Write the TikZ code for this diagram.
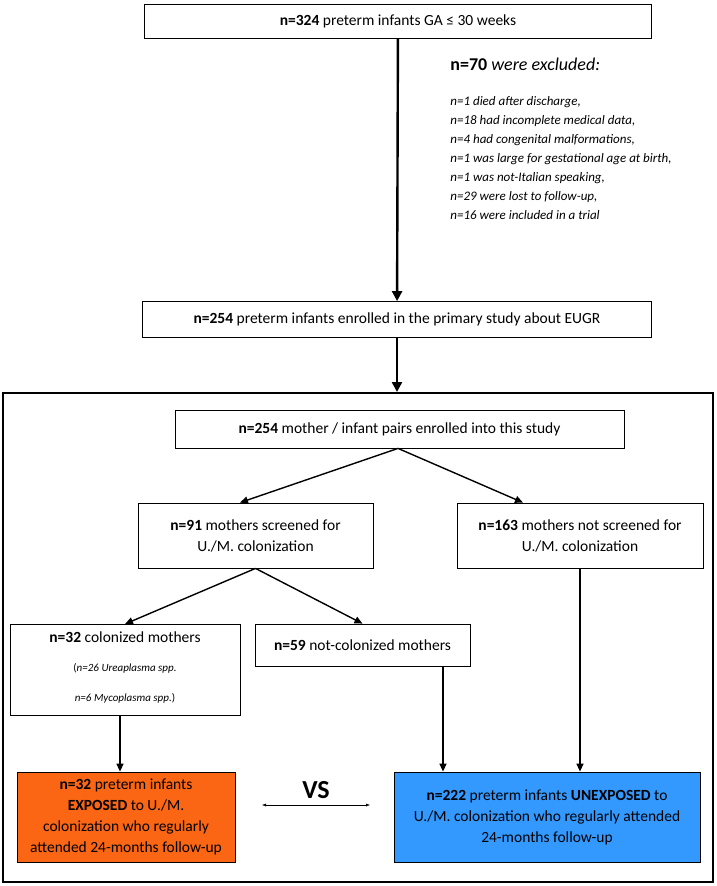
\documentclass[tikz,border=0pt]{standalone}
\usepackage{fontspec}
\setmainfont{Carlito}
\usetikzlibrary{positioning, arrows.meta, calc}

\begin{document}
\begin{tikzpicture}[x=1pt, y=-1pt, thick, font=\fontsize{15.5}{21}\selectfont]
                \tikzstyle{box} = [draw, rectangle, line width=0.8pt, inner sep=0pt, align=center]
                \tikzstyle{big} = [line width=2.4pt, -{Triangle[length=10pt, width=10pt]}]
                \tikzstyle{arr} = [line width=1.4pt, -{Triangle[length=8pt, width=7pt]}]

                \useasboundingbox (0,0) rectangle (717,886);

                % Upper part
                \node[box, minimum width=507pt, minimum height=34pt] (all) at (398,21) {\textbf{n=324} preterm infants GA ≤ 30 weeks};
                \node[box, minimum width=509pt, minimum height=36pt] (eugr) at (397,319.5) {\textbf{n=254} preterm infants enrolled in the primary study about EUGR};
                \node[anchor=west, inner sep=0pt, font=\fontsize{18}{20}\selectfont\itshape] (exhead) at (450,64) {\textbf{\upshape n=70} were excluded:};
                \node[anchor=north west, align=left, inner sep=0pt, font=\fontsize{13}{19}\selectfont\itshape] (excl) at (450,96)
                    {n=1 died after discharge,\\
                     n=18 had incomplete medical data,\\
                     n=4 had congenital malformations,\\
                     n=1 was large for gestational age at birth,\\
                     n=1 was not-Italian speaking,\\
                     n=29 were lost to follow-up,\\
                     n=16 were included in a trial};

                % Frame of this study
                \node[draw, line width=2pt, minimum width=710pt, minimum height=489pt, inner sep=0pt] (frame) at (358,637.5) {};

                \node[box, minimum width=449pt, minimum height=38pt] (pairs) at (399.5,429) {\textbf{n=254} mother / infant pairs enrolled into this study};
                \node[box, minimum width=235pt, minimum height=65pt] (scr) at (255.5,535.5) {\textbf{n=91} mothers screened for\\U./M. colonization};
                \node[box, minimum width=246pt, minimum height=65pt] (nscr) at (580,535.5) {\textbf{n=163} mothers not screened for\\U./M. colonization};
                \node[box, minimum width=230pt, minimum height=91pt, anchor=north] (col) at (125,624) {};
                \node[inner sep=0pt] (coltxt) at (125,637) {\textbf{n=32} colonized mothers};
                \node[align=center, inner sep=0pt, font=\fontsize{11}{30}\selectfont\itshape] (spp) at (125,683) {\upshape(\itshape n=26 Ureaplasma spp.\\n=6 Mycoplasma spp.\upshape)};
                \node[box, minimum width=215pt, minimum height=42pt] (ncol) at (362.5,645) {\textbf{n=59} not-colonized mothers};

                % Outcome groups
                \node[box, fill={rgb,255:red,250;green,102;blue,20}, minimum width=218pt, minimum height=90pt] (exp) at (126,817) {\textbf{n=32} preterm infants\\\textbf{EXPOSED} to U./M.\\colonization who regularly\\attended 24-months follow-up};
                \node[box, fill={rgb,255:red,51;green,153;blue,255}, minimum width=306pt, minimum height=90pt] (unexp) at (547,817) {\textbf{n=222} preterm infants \textbf{UNEXPOSED} to\\U./M. colonization who regularly attended\\24-months follow-up};
                \node[font=\fontsize{26}{26}\selectfont\bfseries] (vs) at (316,790) {VS};
                \coordinate (vsl) at (262,805);
                \coordinate (vsr) at (370,805);

                \draw[big] (all) -- (eugr);
                \draw[big] (eugr) -- (frame.north -| eugr);
                \draw[arr] (pairs.south -| 398,0) -- (scr.north -| 240,0);
                \draw[arr] (pairs.south -| 398,0) -- (nscr.north -| 523,0);
                \draw[arr] (scr.south) -- (col.north);
                \draw[arr] (scr.south) -- (ncol.north);
                \draw[arr] (col.south -| 120,0) -- (exp.north -| 120,0);
                \draw[arr] (ncol.south -| 443,0) -- (unexp.north -| 443,0);
                \draw[arr] (nscr.south) -- (unexp.north -| nscr.south);
                \draw[thin, {Latex[length=4pt]}-{Latex[length=4pt]}] (vsl) -- (vsr);
            \end{tikzpicture}
\end{document}
